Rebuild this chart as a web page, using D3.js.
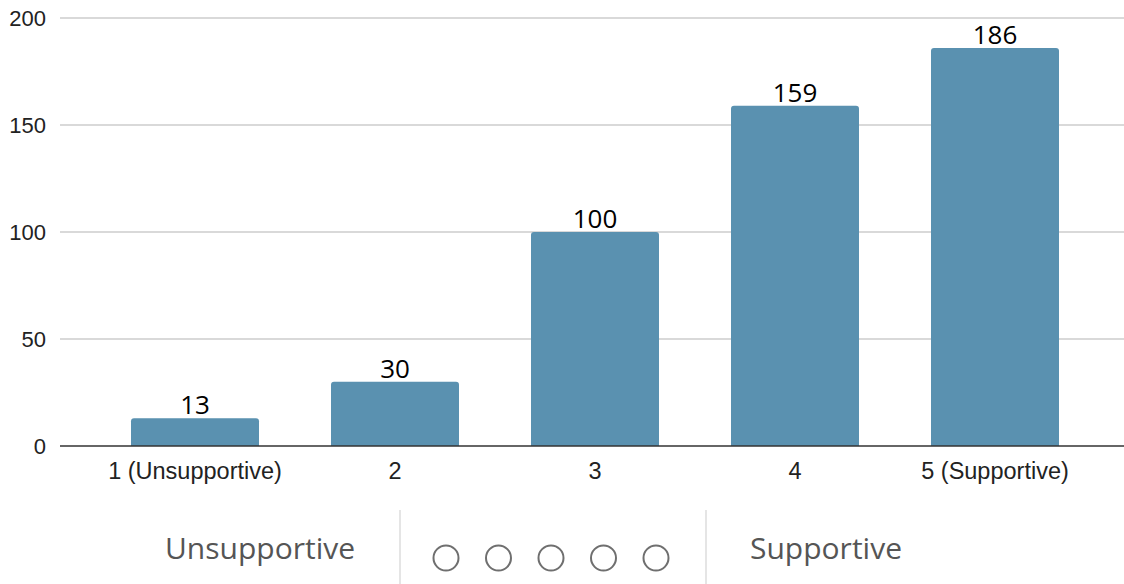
<!DOCTYPE html>
<html>
<head>
<meta charset="utf-8">
<script src="https://cdn.jsdelivr.net/npm/d3@7"></script>
<style>
  body { margin: 0; background: #fff; }
  svg { display: block; }
</style>
</head>
<body>
<svg width="1124" height="584"></svg>
<script>
// Survey answers on a 1-5 scale
var categories = ["1 (Unsupportive)", "2", "3", "4", "5 (Supportive)"];
var counts = [13, 30, 100, 159, 186];
var yTicks = [0, 50, 100, 150, 200];
var scaleLeft = "Unsupportive", scaleRight = "Supportive";
var scaleOptions = [1, 2, 3, 4, 5];

var svg = d3.select("svg");
var barColor = "#5a91b0";

var x = d3.scaleBand()
    .domain(categories)
    .range([95, 1095])
    .paddingInner(0.36)
    .paddingOuter(0.18);

var y = d3.scaleLinear()
    .domain([0, 200])
    .range([446, 18]);

// gridlines
svg.append("g")
    .selectAll("line")
    .data(yTicks.filter(function(d) { return d > 0; }))
    .enter().append("line")
      .attr("x1", 60).attr("x2", 1124)
      .attr("y1", function(d) { return y(d); })
      .attr("y2", function(d) { return y(d); })
      .attr("stroke", "#cccccc")
      .attr("stroke-width", 1.5);

// y axis labels
var yAxis = svg.append("g")
    .attr("transform", "translate(46,0)")
    .call(d3.axisLeft(y).tickValues(yTicks).tickSize(0).tickPadding(0));
yAxis.select(".domain").remove();
yAxis.selectAll("text")
    .style("font-family", "'Liberation Sans', Arial, sans-serif")
    .style("font-size", "22px")
    .style("fill", "#222");

// bars, rounded top corners
var r = 3;
svg.append("g")
    .selectAll("path")
    .data(counts)
    .enter().append("path")
      .attr("fill", barColor)
      .attr("d", function(d, i) {
          var x0 = x(categories[i]), w = x.bandwidth(), top = y(d), bot = y(0);
          return "M" + x0 + "," + bot +
                 "V" + (top + r) + "Q" + x0 + "," + top + " " + (x0 + r) + "," + top +
                 "H" + (x0 + w - r) + "Q" + (x0 + w) + "," + top + " " + (x0 + w) + "," + (top + r) +
                 "V" + bot + "Z";
      });

// baseline
svg.append("line")
    .attr("x1", 60).attr("x2", 1124)
    .attr("y1", y(0)).attr("y2", y(0))
    .attr("stroke", "#333").attr("stroke-width", 1.5);

// value labels
svg.append("g")
    .selectAll("text")
    .data(counts)
    .enter().append("text")
      .attr("x", function(d, i) { return x(categories[i]) + x.bandwidth() / 2; })
      .attr("y", function(d) { return y(d) - 4; })
      .attr("text-anchor", "middle")
      .style("font-family", "'Open Sans', sans-serif")
      .style("font-size", "26px")
      .style("fill", "#000")
      .text(function(d) { return d; });

// x axis labels
var xAxis = svg.append("g")
    .attr("transform", "translate(0," + y(0) + ")")
    .call(d3.axisBottom(x).tickSize(0).tickPadding(16));
xAxis.select(".domain").remove();
xAxis.selectAll("text")
    .style("font-family", "'Liberation Sans', Arial, sans-serif")
    .style("font-size", "23.5px")
    .style("fill", "#222");

// the answer scale as shown in the form
var form = svg.append("g");
form.append("text")
    .attr("x", 260).attr("y", 559)
    .attr("text-anchor", "middle")
    .style("font-family", "'Open Sans', sans-serif")
    .style("font-size", "30px")
    .style("fill", "#555")
    .text(scaleLeft);
form.append("text")
    .attr("x", 826).attr("y", 559)
    .attr("text-anchor", "middle")
    .style("font-family", "'Open Sans', sans-serif")
    .style("font-size", "30px")
    .style("fill", "#555")
    .text(scaleRight);
form.selectAll("line.sep")
    .data([400, 706])
    .enter().append("line")
      .attr("class", "sep")
      .attr("x1", function(d) { return d; }).attr("x2", function(d) { return d; })
      .attr("y1", 510).attr("y2", 584)
      .attr("stroke", "#dddddd").attr("stroke-width", 1.5);

var cx = d3.scalePoint().domain(scaleOptions).range([446, 656]);
form.selectAll("circle")
    .data(scaleOptions)
    .enter().append("circle")
      .attr("cx", function(d) { return cx(d); })
      .attr("cy", 558)
      .attr("r", 12.5)
      .attr("fill", "none")
      .attr("stroke", "#6f6f6f")
      .attr("stroke-width", 2);
</script>
</body>
</html>
